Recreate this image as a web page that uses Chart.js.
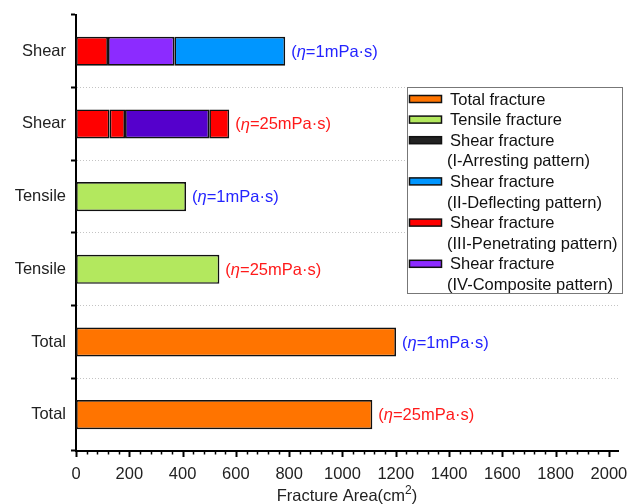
<!DOCTYPE html>
<html>
<head>
<meta charset="utf-8">
<script src="https://cdn.jsdelivr.net/npm/chart.js@4.4.1/dist/chart.umd.min.js"></script>
<style>
  body { margin: 0; background: #fff; }
  #wrap { width: 635px; height: 504px; }
</style>
</head>
<body>
<div id="wrap"><canvas id="myChart" width="635" height="504"></canvas></div>
<script>
// categories (top to bottom) and viscosity of each run
const categories = ['Shear', 'Shear', 'Tensile', 'Tensile', 'Total', 'Total'];
const viscosity = [1, 25, 1, 25, 1, 25];

// fracture area, cm2
const totalArea = [null, null, null, null, 1201, 1112];
const tensileArea = [null, null, 413, 538, null, null];
const shearPart1 = [120, 126, null, null, null, null];
const shearPart2 = [249, 58, null, null, null, null];
const shearPart3 = [416, 316, null, null, null, null];
const shearPart4 = [null, 75, null, null, null, null];

const xTicks = [0, 200, 400, 600, 800, 1000, 1200, 1400, 1600, 1800, 2000];

const legendLabels = [
    ['Total fracture'],
    ['Tensile fracture'],
    ['Shear fracture', '(I-Arresting pattern)'],
    ['Shear fracture', '(II-Deflecting pattern)'],
    ['Shear fracture', '(III-Penetrating pattern)'],
    ['Shear fracture', '(IV-Composite pattern)']
];

const ORANGE = '#ff7400';
const GREEN = '#b3e85e';
const BLACK = '#222222';
const BLUE = '#0096ff';
const RED = '#ff0000';
const PURPLE = '#8c2bff';
const INDIGO = '#5500cc';
const legendColors = [ORANGE, GREEN, BLACK, BLUE, RED, PURPLE];

const FONT = "'Liberation Sans', Arial, sans-serif";
const FS = 16.5;

const etaLabels = {
    id: 'etaLabels',
    afterDatasetsDraw(chart) {
        const ctx = chart.ctx;
        const xs = chart.scales.x, ys = chart.scales.y;
        ctx.save();
        ctx.textBaseline = 'middle';
        for (let i = 0; i < categories.length; i++) {
            let end = 0;
            chart.data.datasets.forEach(ds => { end += ds.data[i] || 0; });
            let x = xs.getPixelForValue(end) + 6;
            const y = ys.getPixelForValue(i) + 1;
            ctx.fillStyle = viscosity[i] === 1 ? '#2424ff' : '#ff1a1a';
            const parts = [
                [FS + 'px ' + FONT, '('],
                ['italic ' + FS + 'px ' + FONT, 'η'],
                [FS + 'px ' + FONT, '=' + viscosity[i] + 'mPa·s)']
            ];
            parts.forEach(p => {
                ctx.font = p[0];
                ctx.fillText(p[1], x, y);
                x += ctx.measureText(p[1]).width;
            });
        }
        ctx.restore();
    }
};

const xAxisExtras = {
    id: 'xAxisExtras',
    afterDraw(chart) {
        const ctx = chart.ctx;
        const xs = chart.scales.x;
        const area = chart.chartArea;
        const y0 = area.bottom;
        ctx.save();
        ctx.strokeStyle = '#000';
        for (let v = 0; v <= 2000; v += 40) {
            const major = v % 200 === 0;
            const x = Math.round(xs.getPixelForValue(v)) + 0.5;
            ctx.lineWidth = major ? 2 : 1.5;
            ctx.beginPath();
            ctx.moveTo(x, y0);
            ctx.lineTo(x, y0 + (major ? 6 : 3.5));
            ctx.stroke();
        }
        // axis title with a raised exponent
        ctx.fillStyle = '#222';
        ctx.textBaseline = 'alphabetic';
        const main = 'Fracture Area(cm', sup = '2', tail = ')';
        ctx.font = FS + 'px ' + FONT;
        const wMain = ctx.measureText(main).width, wTail = ctx.measureText(tail).width;
        ctx.font = '12px ' + FONT;
        const wSup = ctx.measureText(sup).width;
        let x = (area.left + area.right) / 2 - (wMain + wSup + wTail) / 2;
        const base = 501;
        ctx.font = FS + 'px ' + FONT;
        ctx.fillText(main, x, base);
        x += wMain;
        ctx.font = '12px ' + FONT;
        ctx.fillText(sup, x, base - 7);
        x += wSup;
        ctx.font = FS + 'px ' + FONT;
        ctx.fillText(tail, x, base);
        ctx.restore();
    }
};

const boxLegend = {
    id: 'boxLegend',
    afterDraw(chart) {
        const ctx = chart.ctx;
        const left = 407, top = 87, w = 215, h = 206;
        ctx.save();
        ctx.fillStyle = '#fff';
        ctx.fillRect(left, top, w, h);
        ctx.strokeStyle = '#777';
        ctx.lineWidth = 1;
        ctx.strokeRect(left + 0.5, top + 0.5, w, h);
        ctx.font = FS + 'px ' + FONT;
        ctx.textBaseline = 'middle';
        let row = 0;
        const rowH = 20.6, y0 = top + 12;
        legendLabels.forEach((lines, k) => {
            const y = y0 + row * rowH;
            ctx.fillStyle = legendColors[k];
            ctx.fillRect(409.5, y - 3.5, 32, 7);
            ctx.strokeStyle = '#111';
            ctx.lineWidth = 1.5;
            ctx.strokeRect(409.5, y - 3.5, 32, 7);
            ctx.fillStyle = '#111';
            lines.forEach((t, j) => {
                ctx.fillText(t, j === 0 ? 450 : 447, y0 + (row + j) * rowH + 1);
            });
            row += lines.length;
        });
        ctx.restore();
    }
};

const barStyle = {
    borderColor: '#111',
    borderWidth: 1.7,
    borderSkipped: false,
    categoryPercentage: 1,
    barPercentage: 0.4
};

const data = {
    labels: categories,
    datasets: [
        Object.assign({ label: 'Total', data: totalArea, backgroundColor: ORANGE }, barStyle),
        Object.assign({ label: 'Tensile', data: tensileArea, backgroundColor: GREEN }, barStyle),
        Object.assign({ label: 'Shear 1', data: shearPart1, backgroundColor: [RED, RED] }, barStyle),
        Object.assign({ label: 'Shear 2', data: shearPart2, backgroundColor: [PURPLE, RED] }, barStyle),
        Object.assign({ label: 'Shear 3', data: shearPart3, backgroundColor: [BLUE, INDIGO] }, barStyle),
        Object.assign({ label: 'Shear 4', data: shearPart4, backgroundColor: [RED, RED] }, barStyle)
    ]
};

const ctx = document.getElementById('myChart').getContext('2d');
const myChart = new Chart(ctx, {
    type: 'bar',
    data: data,
    plugins: [etaLabels, xAxisExtras, boxLegend],
    options: {
        indexAxis: 'y',
        responsive: false,
        animation: false,
        layout: { padding: { top: 13, right: 17, left: 0, bottom: 0 } },
        plugins: {
            legend: { display: false },
            tooltip: { enabled: false }
        },
        scales: {
            x: {
                type: 'linear',
                stacked: true,
                min: 0,
                max: 2034,
                afterBuildTicks: scale => { scale.ticks = xTicks.map(v => ({ value: v })); },
                afterFit: scale => {
                    scale.height = 53;
                    scale.paddingLeft = 0;
                    scale.paddingRight = 0;
                },
                grid: { display: false, drawTicks: false },
                border: { display: true, color: '#000', width: 2 },
                ticks: {
                    font: { family: FONT, size: FS },
                    color: '#222',
                    padding: 14,
                    maxRotation: 0,
                    callback: v => String(v)
                }
            },
            y: {
                stacked: true,
                afterFit: scale => { scale.width = 76; },
                grid: {
                    offset: true,
                    color: c => (c.index === 0 || c.index === categories.length) ? 'rgba(0,0,0,0)' : '#c4c4c4',
                    tickColor: '#000',
                    tickLength: 5,
                    tickWidth: 2,
                    lineWidth: 1
                },
                border: { display: true, color: '#000', width: 2, dash: [1, 2] },
                ticks: { font: { family: FONT, size: FS }, color: '#222', padding: 5 }
            }
        }
    }
});
</script>
</body>
</html>
